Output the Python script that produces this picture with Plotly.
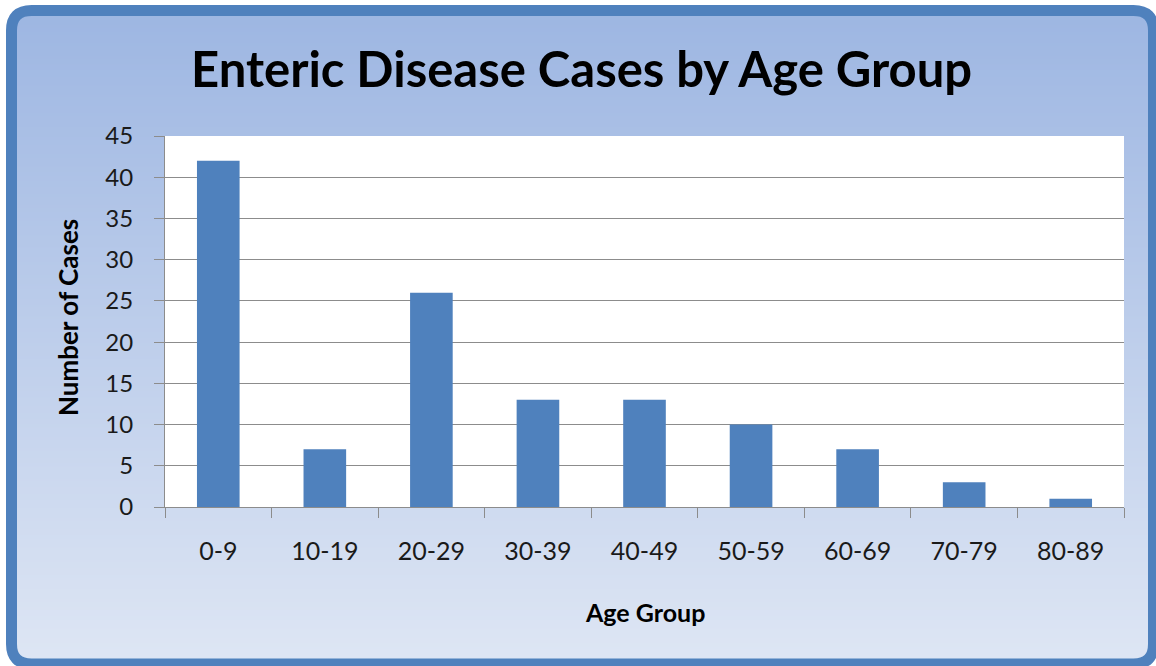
import plotly.graph_objects as go

# Chart data
age_groups = ["0-9", "10-19", "20-29", "30-39", "40-49", "50-59", "60-69", "70-79", "80-89"]
cases = [42, 7, 26, 13, 13, 10, 7, 3, 1]

title_text = "Enteric Disease Cases by Age Group"
x_title = "Age Group"
y_title = "Number of Cases"

# Page geometry (pixels)
FIG_W, FIG_H = 1156, 666
M_L, M_R, M_T, M_B = 165, 32, 136, 159
PW = FIG_W - M_L - M_R
PH = FIG_H - M_T - M_B

FONT = "Lato, 'Open Sans', sans-serif"
BAR_COLOR = "#4f81bd"
BORDER_COLOR = "#4f81bd"
GRID_COLOR = "#8c8c8c"
TOP_RGB = (157, 182, 226)
BOT_RGB = (222, 230, 244)


def px_x(px):
    return (px - M_L) / PW


def px_y(py):
    return (M_T + PH - py) / PH


shapes = []

# Frame: rounded rectangle along the centre line of the border
fx0, fy0, fx1, fy1 = 11.5, 10.5, 1153.5, 664.0
radius = 20.0
grad_top, grad_bot = fy0, fy1
step = 3
y = grad_top
while y < grad_bot:
    y2 = min(y + step, grad_bot)
    t = ((y + y2) / 2 - grad_top) / (grad_bot - grad_top)
    c = tuple(round(a + (b - a) * t) for a, b in zip(TOP_RGB, BOT_RGB))
    # inset near the rounded corners so the fill stays inside the frame
    inset = 0.0
    for yy in (y, y2):
        if yy < fy0 + radius:
            d = fy0 + radius - yy
            inset = max(inset, radius - (max(radius ** 2 - d ** 2, 0)) ** 0.5)
        elif yy > fy1 - radius:
            d = yy - (fy1 - radius)
            inset = max(inset, radius - (max(radius ** 2 - d ** 2, 0)) ** 0.5)
    shapes.append(dict(
        type="rect", xref="paper", yref="paper", layer="below",
        x0=px_x(fx0 + inset), x1=px_x(fx1 - inset),
        y0=px_y(y2 + 0.5), y1=px_y(y),
        fillcolor="rgb(%d,%d,%d)" % c, line=dict(width=0),
    ))
    y = y2

# White plotting area on top of the gradient
shapes.append(dict(
    type="rect", xref="paper", yref="paper", layer="below",
    x0=0, x1=1, y0=0, y1=1, fillcolor="#ffffff", line=dict(width=0),
))

# Border path with rounded corners (quadratic curves at the corners)
k = radius
path = (
    f"M {px_x(fx0 + k)} {px_y(fy0)} "
    f"L {px_x(fx1 - k)} {px_y(fy0)} "
    f"Q {px_x(fx1)} {px_y(fy0)} {px_x(fx1)} {px_y(fy0 + k)} "
    f"L {px_x(fx1)} {px_y(fy1 - k)} "
    f"Q {px_x(fx1)} {px_y(fy1)} {px_x(fx1 - k)} {px_y(fy1)} "
    f"L {px_x(fx0 + k)} {px_y(fy1)} "
    f"Q {px_x(fx0)} {px_y(fy1)} {px_x(fx0)} {px_y(fy1 - k)} "
    f"L {px_x(fx0)} {px_y(fy0 + k)} "
    f"Q {px_x(fx0)} {px_y(fy0)} {px_x(fx0 + k)} {px_y(fy0)} Z"
)
shapes.append(dict(
    type="path", xref="paper", yref="paper", layer="below", path=path,
    line=dict(color=BORDER_COLOR, width=11), fillcolor="rgba(0,0,0,0)",
))

fig = go.Figure()
fig.add_trace(go.Bar(
    x=age_groups, y=cases, marker=dict(color=BAR_COLOR, line=dict(width=0)),
    hoverinfo="x+y",
))

annotations = [
    dict(text=f"<b>{title_text}</b>", xref="paper", yref="paper",
         x=px_x(581.5), y=px_y(68), xanchor="center", yanchor="middle",
         showarrow=False, font=dict(family=FONT, size=49, color="#000000")),
    dict(text=f"<b>{x_title}</b>", xref="paper", yref="paper",
         x=px_x(645), y=px_y(612), xanchor="center", yanchor="middle",
         showarrow=False, font=dict(family=FONT, size=25, color="#000000")),
    dict(text=f"<b>{y_title}</b>", xref="paper", yref="paper",
         x=px_x(68), y=px_y(318), xanchor="center", yanchor="middle",
         textangle=-90, showarrow=False,
         font=dict(family=FONT, size=26, color="#000000")),
]

fig.update_layout(
    width=FIG_W, height=FIG_H,
    margin=dict(l=M_L, r=M_R, t=M_T, b=M_B, pad=0),
    paper_bgcolor="#ffffff", plot_bgcolor="#ffffff",
    showlegend=False, bargap=0.6,
    shapes=shapes, annotations=annotations,
    font=dict(family=FONT, color="#1a1a1a"),
)
fig.update_xaxes(
    type="category", tickson="boundaries", ticks="outside", ticklen=10,
    tickcolor=GRID_COLOR, tickwidth=1, showline=True, linecolor=GRID_COLOR,
    linewidth=1, showgrid=False, tickfont=dict(family=FONT, size=25, color="#1a1a1a"),
    ticklabelstandoff=22, zeroline=False,
)
fig.update_yaxes(
    range=[0, 45], dtick=5, ticks="outside", ticklen=10, tickcolor=GRID_COLOR,
    tickwidth=1, showline=True, linecolor=GRID_COLOR, linewidth=1,
    showgrid=True, gridcolor=GRID_COLOR, gridwidth=1, zeroline=False,
    tickfont=dict(family=FONT, size=24, color="#1a1a1a"), ticklabelstandoff=16,
)

fig.write_html("out.html")
